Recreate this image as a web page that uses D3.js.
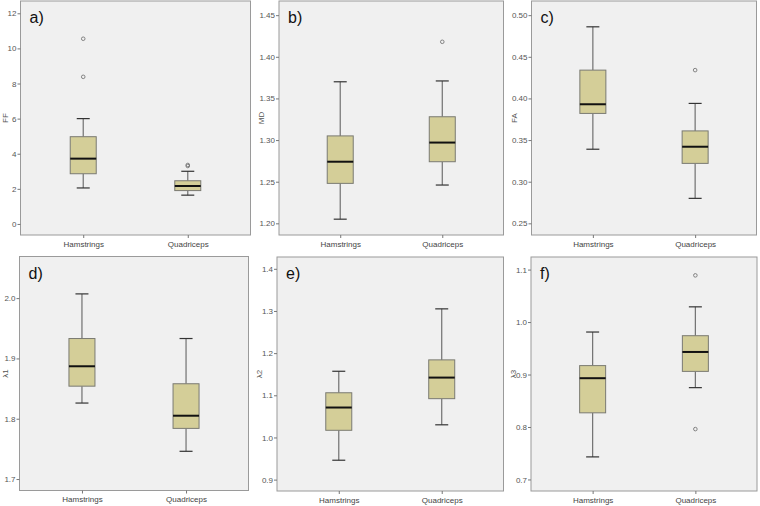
<!DOCTYPE html>
<html><head><meta charset="utf-8">
<script src="https://cdn.jsdelivr.net/npm/d3@7"></script>
<style>
html,body{margin:0;padding:0;background:#fff;}
svg{display:block;}
text{font-family:"Liberation Sans Narrow","Liberation Sans",Arial,sans-serif;}
</style></head>
<body>
<svg id="chart" width="760" height="506"></svg>
<script>
// ---- data ----
const categories = ["Hamstrings", "Quadriceps"];
const panelLabels = ["a)", "b)", "c)", "d)", "e)", "f)"];
const yTitles = ["FF", "MD", "FA", "λ1", "λ2", "λ3"];
// [whiskerLow, Q1, median, Q3, whiskerHigh] for Hamstrings / Quadriceps
const ffStats = [[2.05, 2.86, 3.72, 4.97, 6.0], [1.64, 1.9, 2.16, 2.46, 3.0]];
const ffOutliers = [[10.55, 8.38], [3.3, 3.36]];
const mdStats = [[1.205, 1.248, 1.274, 1.305, 1.370], [1.246, 1.274, 1.297, 1.328, 1.371]];
const mdOutliers = [[], [1.418]];
const faStats = [[0.339, 0.382, 0.393, 0.434, 0.486], [0.280, 0.322, 0.342, 0.361, 0.394]];
const faOutliers = [[], [0.434]];
const l1Stats = [[1.826, 1.854, 1.887, 1.933, 2.007], [1.746, 1.784, 1.805, 1.858, 1.933]];
const l1Outliers = [[], []];
const l2Stats = [[0.946, 1.017, 1.071, 1.106, 1.157], [1.030, 1.092, 1.142, 1.184, 1.305]];
const l2Outliers = [[], []];
const l3Stats = [[0.743, 0.827, 0.893, 0.917, 0.981], [0.875, 0.906, 0.943, 0.974, 1.029]];
const l3Outliers = [[], [1.089, 0.796]];
const ffTicks = [0, 2, 4, 6, 8, 10, 12];
const mdTicks = [1.20, 1.25, 1.30, 1.35, 1.40, 1.45];
const faTicks = [0.25, 0.30, 0.35, 0.40, 0.45, 0.50];
const l1Ticks = [1.7, 1.8, 1.9, 2.0];
const l2Ticks = [0.9, 1.0, 1.1, 1.2, 1.3, 1.4];
const l3Ticks = [0.7, 0.8, 0.9, 1.0, 1.1];

// ---- layout (separate from data) ----
const frames = [
  {l: 20.5, r: 250.5, t: 1, b: 235, dom: [-0.63, 12.7], fmt: "d"},
  {l: 279, r: 503.5, t: 1, b: 235, dom: [1.186, 1.467], fmt: ".2f"},
  {l: 531.5, r: 756.5, t: 1, b: 235, dom: [0.236, 0.517], fmt: ".2f"},
  {l: 19.5, r: 248.5, t: 256.5, b: 490.5, dom: [1.681, 2.069], fmt: ".1f"},
  {l: 277, r: 503.5, t: 257, b: 491, dom: [0.873, 1.428], fmt: ".1f"},
  {l: 531, r: 757, t: 257, b: 491, dom: [0.678, 1.124], fmt: ".1f"}
];
const statsList = [ffStats, mdStats, faStats, l1Stats, l2Stats, l3Stats];
const outList = [ffOutliers, mdOutliers, faOutliers, l1Outliers, l2Outliers, l3Outliers];
const tickList = [ffTicks, mdTicks, faTicks, l1Ticks, l2Ticks, l3Ticks];

const svg = d3.select("#chart");
const boxW = 26, capW = 13;

frames.forEach((f, i) => {
  const g = svg.append("g");
  const x = d3.scalePoint().domain(categories).range([f.l, f.r]).padding(0.6);
  const y = d3.scaleLinear().domain(f.dom).range([f.b, f.t]);

  g.append("rect").attr("x", f.l).attr("y", f.t).attr("width", f.r - f.l).attr("height", f.b - f.t)
    .attr("fill", "#f0f0f0").attr("stroke", "#9a9a9a").attr("stroke-width", 1);

  // y axis
  const ya = d3.axisLeft(y).tickValues(tickList[i]).tickSize(3).tickPadding(1).tickFormat(d3.format(f.fmt));
  const yg = g.append("g").attr("transform", `translate(${f.l},0)`).call(ya);
  yg.select(".domain").remove();
  yg.selectAll("line").attr("stroke", "#777");
  yg.selectAll("text").attr("fill", "#555").style("font-size", "8px");

  // x axis
  const xa = d3.axisBottom(x).tickSize(3).tickPadding(3);
  const xg = g.append("g").attr("transform", `translate(0,${f.b})`).call(xa);
  xg.select(".domain").remove();
  xg.selectAll("line").attr("stroke", "#777");
  xg.selectAll("text").attr("fill", "#444").style("font-size", "8px");

  // y title
  g.append("text").attr("transform", `translate(${Math.max(f.l - 15, 8)},${(f.t + f.b) / 2}) rotate(-90)`)
    .attr("text-anchor", "middle").attr("fill", "#555").style("font-size", "8px").text(yTitles[i]);

  // boxes
  categories.forEach((c, k) => {
    const s = statsList[i][k], cx = x(c);
    g.append("line").attr("x1", cx).attr("x2", cx).attr("y1", y(s[0])).attr("y2", y(s[1]))
      .attr("stroke", "#707070").attr("stroke-width", 1.2);
    g.append("line").attr("x1", cx).attr("x2", cx).attr("y1", y(s[3])).attr("y2", y(s[4]))
      .attr("stroke", "#707070").attr("stroke-width", 1.2);
    [s[0], s[4]].forEach(v => g.append("line").attr("x1", cx - capW / 2).attr("x2", cx + capW / 2)
      .attr("y1", y(v)).attr("y2", y(v)).attr("stroke", "#333").attr("stroke-width", 1.2));
    g.append("rect").attr("x", cx - boxW / 2).attr("width", boxW)
      .attr("y", y(s[3])).attr("height", y(s[1]) - y(s[3]))
      .attr("fill", "#d4ce98").attr("stroke", "#7a7a72").attr("stroke-width", 1);
    g.append("line").attr("x1", cx - boxW / 2).attr("x2", cx + boxW / 2)
      .attr("y1", y(s[2])).attr("y2", y(s[2])).attr("stroke", "#111").attr("stroke-width", 2);
    outList[i][k].forEach(v => g.append("circle").attr("cx", cx).attr("cy", y(v)).attr("r", 1.8)
      .attr("fill", "none").attr("stroke", "#777").attr("stroke-width", 0.9));
  });

  // panel label
  g.append("text").attr("x", f.l + 9).attr("y", f.t + 22).attr("fill", "#111")
    .style("font-family", "'Liberation Sans',Arial,sans-serif").style("font-size", "16px").text(panelLabels[i]);
});
</script>
</body></html>
